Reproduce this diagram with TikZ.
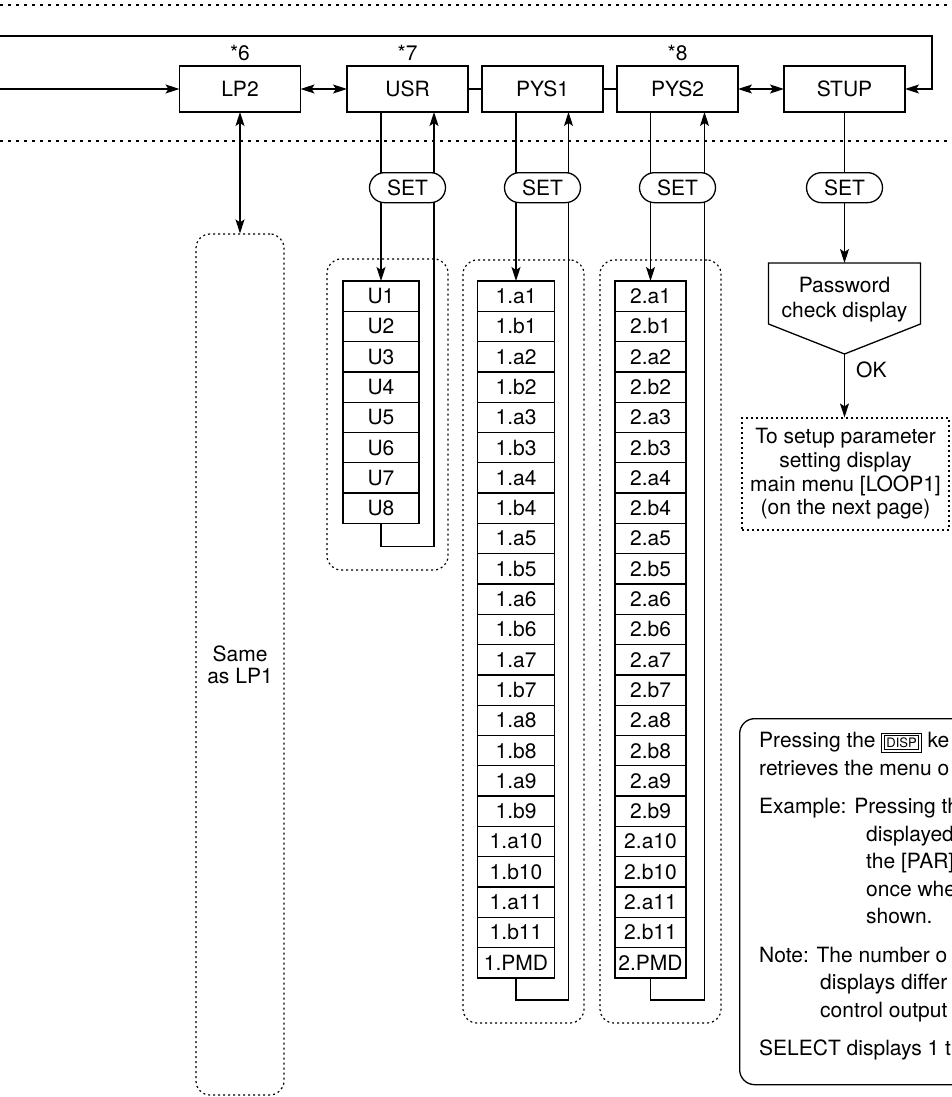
\documentclass[tikz,border=0pt]{standalone}
\usepackage{fontspec}
\setmainfont{TeX Gyre Heros}
\usetikzlibrary{arrows.meta,positioning,shapes.misc}

\newcommand{\dispkey}{{\setlength{\fboxrule}{0.9pt}\setlength{\fboxsep}{1.6pt}%
  \fbox{\fbox{\fontsize{13}{13}\selectfont DISP}}}}

\tikzset{
  wire/.style={line width=1.3pt},
  arr/.style={wire, -{Stealth[length=14pt,width=9pt,inset=3pt]}},
  darr/.style={wire, {Stealth[length=14pt,width=9pt,inset=3pt]}-{Stealth[length=14pt,width=9pt,inset=3pt]}},
  menubox/.style={draw, wire, minimum width=121pt, minimum height=46pt, inner sep=0pt, outer sep=0pt},
  setkey/.style={draw, wire, rounded rectangle, fill=white, minimum width=76pt, minimum height=30pt, inner sep=0pt},
  listrow/.style={draw, wire, fill=white, minimum height=30.3pt, inner sep=0pt, outer sep=0pt},
  grpbox/.style={draw, line width=1.2pt, dash pattern=on 2pt off 3pt, rounded corners=14pt, inner sep=0pt, align=center},
  hdots/.style={line width=1.2pt, dash pattern=on 3pt off 5pt},
  star/.style={inner sep=2pt, above=3pt of #1},
}

\begin{document}
\begin{tikzpicture}[x=1pt, y=-1pt, font=\fontsize{21}{25}\selectfont]
  \useasboundingbox (0,0) rectangle (952,1097);
  \clip (0,0) rectangle (952,1097);

  \draw[hdots] (0,5) -- (952,5);
  \draw[hdots] (0,141) -- (952,141);

  % menu row
  \node[menubox] (lp2) at (240,89) {LP2};
  \node[menubox, right=46.5pt of lp2] (usr) {USR};
  \node[menubox, right=14pt of usr] (pys1) {PYS1};
  \node[menubox, right=14pt of pys1] (pys2) {PYS2};
  \node[menubox, right=46pt of pys2] (stup) {STUP};
  \node[star=lp2] (s6) {*6};
  \node[star=usr] (s7) {*7};
  \node[star=pys2] (s8) {*8};

  \coordinate (inl) at (0,89);
  \coordinate (topl) at (0,36);
  \coordinate (topr) at (932,36);
  \draw[arr] (inl) -- (lp2.west);
  \draw[arr] (topl) -- (topr) |- (stup.east);
  \draw[darr] (lp2) -- (usr);
  \draw[wire] (usr) -- (pys1);
  \draw[wire] (pys1) -- (pys2);
  \draw[darr] (pys2) -- (stup);

  % dotted groups
  \node[grpbox, minimum width=88pt, minimum height=861pt, font=\fontsize{21}{22}\selectfont]
    (lpgrp) at (240,664.5) {Same\\as LP1};
  \node[grpbox, minimum width=121pt, minimum height=311pt] (usrgrp) at (387.5,414.5) {};
  \node[grpbox, minimum width=121pt, minimum height=763pt] (p1grp) at (523.5,641.5) {};
  \node[grpbox, minimum width=121pt, minimum height=763pt] (p2grp) at (660.5,641.5) {};

  % lists
  \foreach \t [count=\i] in {U1,U2,U3,U4,U5,U6,U7,U8}
    \node[listrow, minimum width=76pt] (u\i) at (381,{281+30.3*(\i-0.5)}) {\t};
  \foreach \p/\xc/\w in {1/516/77, 2/650.5/71} {
    \foreach \n in {1,...,11} {
      \pgfmathtruncatemacro\ra{2*\n-1}
      \pgfmathtruncatemacro\rb{2*\n}
      \node[listrow, minimum width=\w pt] (p\p-\ra) at (\xc,{281+30.3*(\ra-0.5)}) {\p.a\n};
      \node[listrow, minimum width=\w pt] (p\p-\rb) at (\xc,{281+30.3*(\rb-0.5)}) {\p.b\n};
    }
    \node[listrow, minimum width=\w pt] (p\p-23) at (\xc,{281+30.3*22.5}) {\p.PMD};
  }

  \draw[darr] (lp2.south) -- (lpgrp.north);
  \draw[arr] ([xshift=-26.5pt]usr.south) -- (u1.north);
  \draw[arr] (u8.south) -- ++(0,23) -| ([xshift=26.5pt]usr.south);
  \draw[arr] ([xshift=-26.5pt]pys1.south) -- (p1-1.north);
  \draw[arr] (p1-23.south) -- ++(0,22) -| ([xshift=26pt]pys1.south);
  \draw[arr] ([xshift=-27pt]pys2.south) -- (p2-1.north);
  \draw[arr] (p2-23.south) -- ++(0,22) -| ([xshift=27pt]pys2.south);

  % password check
  \coordinate (pwtop) at (844.5,263);
  \coordinate (pwtip) at (844.5,354);
  \draw[wire] (768.5,263) -- (920.5,263) -- (920.5,324) -- (pwtip) -- (768.5,324) -- cycle;
  \node[align=center, font=\fontsize{21}{25}\selectfont] (pw) at (844.5,300) {Password\\check display};
  \node[grpbox, rounded corners=0pt, minimum width=207pt, minimum height=112pt,
        font=\fontsize{21}{23.7}\selectfont] (setup) at (845.5,474)
        {To setup parameter\\setting display\\main menu [LOOP1]\\(on the next page)};
  \draw[arr] (stup.south) -- (pwtop);
  \draw[arr] (pwtip) -- (pwtip |- setup.north);
  \node[anchor=west, inner sep=0pt] (ok) at (856,370) {OK};

  % SET keys on top of the wires
  \node[setkey, below=60pt of usr] (usrset) {SET};
  \node[setkey, below=60pt of pys1] (p1set) {SET};
  \node[setkey, below=60pt of pys2] (p2set) {SET};
  \node[setkey, below=60pt of stup] (stset) {SET};

  % note
  \node[draw, wire, rounded corners=15pt, minimum width=280pt, minimum height=366pt,
        anchor=north west] (note) at (739,718) {};
  \node[anchor=north west, align=left, inner sep=0pt, font=\fontsize{21}{27.5}\selectfont]
    (notetext) at ([xshift=20pt,yshift=-14pt]note.north west) {%
    Pressing the \dispkey\ ke\\
    retrieves the menu o\\[11pt]
    Example: Pressing th\\
    \hspace*{107pt}displayed,\\
    \hspace*{107pt}the [PAR] s\\
    \hspace*{107pt}once wher\\
    \hspace*{107pt}shown.\\[11pt]
    Note: The number o\\
    \hspace*{61pt}displays differ\\
    \hspace*{61pt}control output\\[11pt]
    SELECT displays 1 t};
\end{tikzpicture}
\end{document}
